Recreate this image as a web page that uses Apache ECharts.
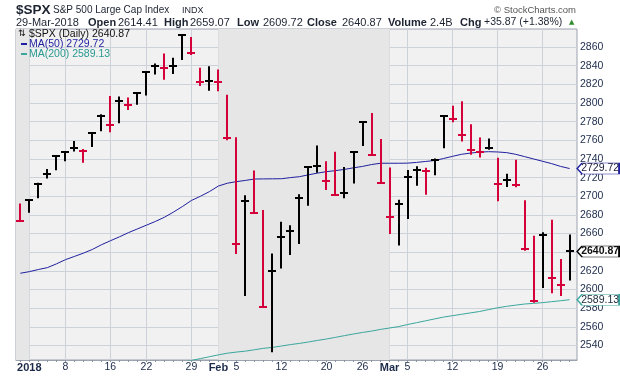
<!DOCTYPE html>
<html><head><meta charset="utf-8">
<script src="https://cdn.jsdelivr.net/npm/echarts@6/dist/echarts.min.js"></script>
<style>html,body{margin:0;padding:0;background:#fff}#c{width:620px;height:376px}</style>
</head><body><div id="c"></div><script>
const dates = ['2017-12-29','2018-01-02','2018-01-03','2018-01-04','2018-01-05','2018-01-08','2018-01-09','2018-01-10','2018-01-11','2018-01-12','2018-01-16','2018-01-17','2018-01-18','2018-01-19','2018-01-22','2018-01-23','2018-01-24','2018-01-25','2018-01-26','2018-01-29','2018-01-30','2018-01-31','2018-02-01','2018-02-02','2018-02-05','2018-02-06','2018-02-07','2018-02-08','2018-02-09','2018-02-12','2018-02-13','2018-02-14','2018-02-15','2018-02-16','2018-02-20','2018-02-21','2018-02-22','2018-02-23','2018-02-26','2018-02-27','2018-02-28','2018-03-01','2018-03-02','2018-03-05','2018-03-06','2018-03-07','2018-03-08','2018-03-09','2018-03-12','2018-03-13','2018-03-14','2018-03-15','2018-03-16','2018-03-19','2018-03-20','2018-03-21','2018-03-22','2018-03-23','2018-03-26','2018-03-27','2018-03-28','2018-03-29'];
const highs = [2692.12,2695.89,2714.37,2729.29,2743.45,2748.51,2759.14,2750.80,2767.56,2787.85,2807.54,2807.04,2805.83,2810.33,2833.03,2842.24,2852.97,2848.56,2872.87,2870.62,2837.75,2839.26,2835.96,2808.92,2763.39,2701.04,2727.67,2685.27,2638.67,2672.61,2668.84,2702.10,2731.51,2754.42,2737.60,2747.75,2731.26,2747.76,2780.64,2789.15,2761.52,2730.89,2696.25,2728.09,2732.08,2730.60,2740.45,2786.57,2796.98,2801.90,2777.11,2763.03,2761.85,2741.38,2724.22,2739.14,2695.68,2657.67,2661.36,2674.78,2632.65,2659.07];
const lows = [2673.61,2682.36,2697.77,2719.07,2727.92,2737.60,2747.86,2736.06,2752.78,2769.64,2768.64,2778.38,2792.56,2798.08,2808.12,2830.59,2824.81,2830.94,2846.18,2851.48,2818.27,2813.04,2812.70,2759.97,2638.17,2593.07,2681.33,2580.56,2532.69,2622.45,2637.08,2648.87,2689.82,2725.11,2706.76,2701.29,2697.77,2713.74,2753.78,2744.22,2713.54,2659.65,2647.32,2675.75,2711.26,2701.74,2722.65,2751.54,2779.26,2758.68,2744.38,2741.47,2749.97,2694.59,2710.05,2709.79,2641.59,2585.89,2601.81,2596.12,2593.06,2609.72];
const closes = [2673.61,2695.81,2713.06,2723.99,2743.15,2747.71,2751.29,2748.23,2767.56,2786.24,2776.42,2802.56,2798.03,2810.30,2832.97,2839.13,2837.54,2839.25,2872.87,2853.53,2822.43,2823.81,2821.98,2762.13,2648.94,2695.14,2681.66,2581.00,2619.55,2656.00,2662.94,2698.63,2731.20,2732.22,2716.26,2701.33,2703.96,2747.30,2779.60,2744.28,2713.83,2677.67,2691.25,2720.94,2728.12,2726.80,2738.97,2786.57,2783.02,2765.31,2749.48,2747.33,2752.01,2712.92,2716.94,2711.93,2643.69,2588.26,2658.55,2612.62,2605.00,2640.87];
const prevClose = 2687.54;
const ma50 = [2617.5,2619.2,2621.5,2623.5,2627.5,2632,2635.5,2639,2643,2648,2652.3,2656.5,2661,2665,2669,2673,2677.5,2683,2689,2695.5,2700,2705,2711,2714,2715.7,2717,2718.5,2718.6,2718.7,2718.8,2720,2721,2723,2724.8,2726.4,2727.5,2728.8,2730.5,2732,2734,2735.4,2735.4,2735.4,2735.5,2736.3,2737.3,2738.3,2740.5,2742.8,2745,2746.3,2747.3,2747.8,2747.5,2746.8,2745,2742.5,2740,2737.5,2735,2732,2729.72];
const ma200 = [null,null,null,null,null,null,null,null,null,null,null,null,null,null,null,null,null,null,2522.5,2524,2526,2528,2530,2531.8,2533,2534,2535.5,2537,2538,2539.5,2541,2542.3,2543.8,2545.5,2547,2548.8,2550.6,2552.4,2554,2555.5,2557.3,2558.8,2560.3,2562.5,2564.5,2566.5,2568.5,2570.5,2572,2573.5,2575,2576.5,2578.5,2580.5,2582,2583.3,2584.5,2585.2,2586,2587,2588,2589.13];
const xTickIdx = [1,5,10,14,19,22,24,29,34,38,41,43,48,53,58];
const xTickLabels = ['2018','8','16','22','29','Feb','5','12','20','26','Mar','5','12','19','26'];
const boldLabels = ['2018','Feb','Mar'];
const yTicks = [2540,2560,2580,2600,2620,2640,2660,2680,2700,2720,2740,2760,2780,2800,2820,2840,2860];
const shadedRanges = [[-0.48,1],[22,41]];

const RED = '#d4003a', BLK = '#000000', NAVY = '#1f1fa0', TEAL = '#3aa69c';
const FONT = '"Liberation Sans", Arial, sans-serif';
const hlc = closes.map((c,i)=>[i, highs[i], lows[i], c, c < (i ? closes[i-1] : prevClose) ? 1 : 0]);
const labelMap = {}; xTickIdx.forEach((v,k)=>labelMap[v]=xTickLabels[k]);
const last = closes.length - 1;
const arrowPath = 'path://M0,5L5,0L42,0L42,10L5,10Z';

const chart = echarts.init(document.getElementById('c'), null, {renderer:'canvas'});
chart.setOption({
  animation:false,
  backgroundColor:'#ffffff',
  grid:{left:16, right:43, top:29, bottom:16, show:true, backgroundColor:'#f1f1f1', borderColor:'#9aa2ae', borderWidth:1},
  xAxis:[{
    type:'value', min:-0.48, max:61.82, position:'bottom',
    axisLine:{show:true, lineStyle:{color:'#9aa2ae'}},
    axisTick:{show:true, customValues:xTickIdx, length:2, lineStyle:{color:'#9aa2ae'}},
    splitLine:{show:true, lineStyle:{color:'#cdd1d9', width:1}},
    axisLabel:{customValues:xTickIdx, margin:2, fontSize:10.5, fontFamily:FONT, color:'#1c2b4a',
      formatter:v=>{const t=labelMap[Math.round(v)]||''; return boldLabels.includes(t)?'{b|'+t+'}':t;},
      rich:{b:{fontWeight:'bold', fontSize:11, fontFamily:FONT, color:'#1c2b4a'}}}
  },{
    type:'value', min:-0.48, max:61.82, position:'bottom', gridIndex:0,
    axisLine:{show:false}, axisLabel:{show:false}, splitLine:{show:false},
    axisTick:{show:true, customValues:dates.map((d,i)=>i), length:2, lineStyle:{color:'#8a939f'}}
  }],
  yAxis:{
    type:'value', position:'right', min:2524.5, max:2879.3, scale:true,
    axisLine:{show:true, lineStyle:{color:'#9aa2ae'}},
    axisTick:{show:true, customValues:yTicks, length:3, lineStyle:{color:'#555'}},
    splitLine:{show:true, lineStyle:{color:'#cdd1d9', width:1}},
    axisLabel:{customValues:yTicks, margin:3, fontSize:10.5, fontFamily:FONT, color:'#1c2b4a', formatter:v=>String(v)}
  },
  series:[
    {type:'line', xAxisIndex:0, data:[], silent:true,
      markArea:{silent:true, itemStyle:{color:'#e6e6e6'}, data:shadedRanges.map(r=>[{xAxis:r[0]},{xAxis:r[1]}])}, z:0},
    {type:'line', name:'MA(50)', xAxisIndex:0, data:ma50.map((v,i)=>[i,v]), showSymbol:false, symbol:'none',
      lineStyle:{color:NAVY, width:1}, z:3, silent:true,
      markPoint:{symbol:arrowPath, symbolSize:[42,11], symbolOffset:[28.5,0], silent:true,
        itemStyle:{color:'#ffffff', borderColor:NAVY, borderWidth:1},
        label:{show:true, position:'inside', offset:[2,0], color:'#1a1a3a', fontSize:10.5, fontFamily:FONT, formatter:()=>ma50[last].toFixed(2)},
        data:[{coord:[last, ma50[last]]}]}},
    {type:'line', name:'MA(200)', xAxisIndex:0, data:ma200.map((v,i)=>[i,v]), showSymbol:false, symbol:'none', connectNulls:false,
      lineStyle:{color:TEAL, width:1}, z:3, silent:true, clip:true,
      markPoint:{symbol:arrowPath, symbolSize:[42,11], symbolOffset:[28.5,0], silent:true,
        itemStyle:{color:'#ffffff', borderColor:TEAL, borderWidth:1},
        label:{show:true, position:'inside', offset:[2,0], color:'#1a2a3a', fontSize:10.5, fontFamily:FONT, formatter:()=>ma200[last].toFixed(2)},
        data:[{coord:[last, ma200[last]]}]}},
    {type:'custom', name:'$SPX', xAxisIndex:0, data:hlc, encode:{x:0, y:[1,2,3]}, z:4, silent:true,
      renderItem:(params, api)=>{
        const i = api.value(0);
        const hi = api.coord([i, api.value(1)]);
        const lo = api.coord([i, api.value(2)]);
        const cl = api.coord([i, api.value(3)]);
        const col = api.value(4) ? RED : BLK;
        const x = Math.round(hi[0]);
        const yc = Math.round(cl[1]);
        return {type:'group', children:[
          {type:'line', shape:{x1:x, y1:hi[1], x2:x, y2:lo[1]}, style:{stroke:col, lineWidth:2}},
          {type:'line', shape:{x1:x-4, y1:yc, x2:x+4, y2:yc}, style:{stroke:col, lineWidth:2}}
        ]};
      },
      markPoint:{symbol:arrowPath, symbolSize:[42,11], symbolOffset:[28.5,0], silent:true,
        itemStyle:{color:'#ffffff', borderColor:'#000', borderWidth:1},
        label:{show:true, position:'inside', offset:[2,0], color:'#111', fontWeight:'bold', fontSize:10.5, fontFamily:FONT, formatter:()=>closes[last].toFixed(2)},
        data:[{coord:[last, closes[last]]}]}}
  ],
  graphic:[
    {type:'text', x:16, y:10, style:{text:'$SPX', font:'bold 13.5px '+FONT, fill:'#1c2331', verticalAlign:'middle'}},
    {type:'text', x:53, y:10.5, style:{text:'S&P 500 Large Cap Index', font:'10px '+FONT, fill:'#1c2331', verticalAlign:'middle'}},
    {type:'text', x:182, y:11, style:{text:'INDX', font:'9px '+FONT, fill:'#1c2331', verticalAlign:'middle'}},
    {type:'text', x:576, y:10, style:{text:'© StockCharts.com', font:'9.5px '+FONT, fill:'#555', align:'right', verticalAlign:'middle'}},
    {type:'text', x:16, y:22.5, style:{text:'29-Mar-2018', font:'11px '+FONT, fill:'#1c2331', verticalAlign:'middle'}},
    {type:'text', x:88, y:22.5, style:{text:'Open', font:'bold 11px '+FONT, fill:'#1c2331', verticalAlign:'middle'}},
    {type:'text', x:118, y:22.5, style:{text:'2614.41', font:'11px '+FONT, fill:'#1c2331', verticalAlign:'middle'}},
    {type:'text', x:164, y:22.5, style:{text:'High', font:'bold 11px '+FONT, fill:'#1c2331', verticalAlign:'middle'}},
    {type:'text', x:190, y:22.5, style:{text:'2659.07', font:'11px '+FONT, fill:'#1c2331', verticalAlign:'middle'}},
    {type:'text', x:237, y:22.5, style:{text:'Low', font:'bold 11px '+FONT, fill:'#1c2331', verticalAlign:'middle'}},
    {type:'text', x:263, y:22.5, style:{text:'2609.72', font:'11px '+FONT, fill:'#1c2331', verticalAlign:'middle'}},
    {type:'text', x:307, y:22.5, style:{text:'Close', font:'bold 11px '+FONT, fill:'#1c2331', verticalAlign:'middle'}},
    {type:'text', x:342, y:22.5, style:{text:'2640.87', font:'11px '+FONT, fill:'#1c2331', verticalAlign:'middle'}},
    {type:'text', x:388, y:22.5, style:{text:'Volume', font:'bold 11px '+FONT, fill:'#1c2331', verticalAlign:'middle'}},
    {type:'text', x:430, y:22.5, style:{text:'2.4B', font:'11px '+FONT, fill:'#1c2331', verticalAlign:'middle'}},
    {type:'text', x:460, y:22.5, style:{text:'Chg', font:'bold 11px '+FONT, fill:'#1c2331', verticalAlign:'middle'}},
    {type:'text', x:484, y:22.5, style:{text:'+35.87 (+1.38%)', font:'10.5px '+FONT, fill:'#1c2331', verticalAlign:'middle'}},
    {type:'text', x:569, y:22, style:{text:'▲', font:'7px "DejaVu Sans"', fill:'#2e8b2e', verticalAlign:'middle'}},
    {type:'text', x:18, y:34, z:10, style:{text:'⇅', font:'9px "DejaVu Sans"', fill:'#111', verticalAlign:'middle'}},
    {type:'text', x:29, y:34, z:10, style:{text:'$SPX (Daily) 2640.87', font:'10.5px '+FONT, fill:'#111', verticalAlign:'middle'}},
    {type:'rect', z:10, shape:{x:21, y:43, width:6, height:2}, style:{fill:NAVY}},
    {type:'text', x:29, y:44, z:10, style:{text:'MA(50) 2729.72', font:'10.5px '+FONT, fill:NAVY, verticalAlign:'middle'}},
    {type:'rect', z:10, shape:{x:21, y:53, width:6, height:2}, style:{fill:TEAL}},
    {type:'text', x:29, y:54, z:10, style:{text:'MA(200) 2589.13', font:'10.5px '+FONT, fill:'#2a9a90', verticalAlign:'middle'}}
  ]
});
</script></body></html>
